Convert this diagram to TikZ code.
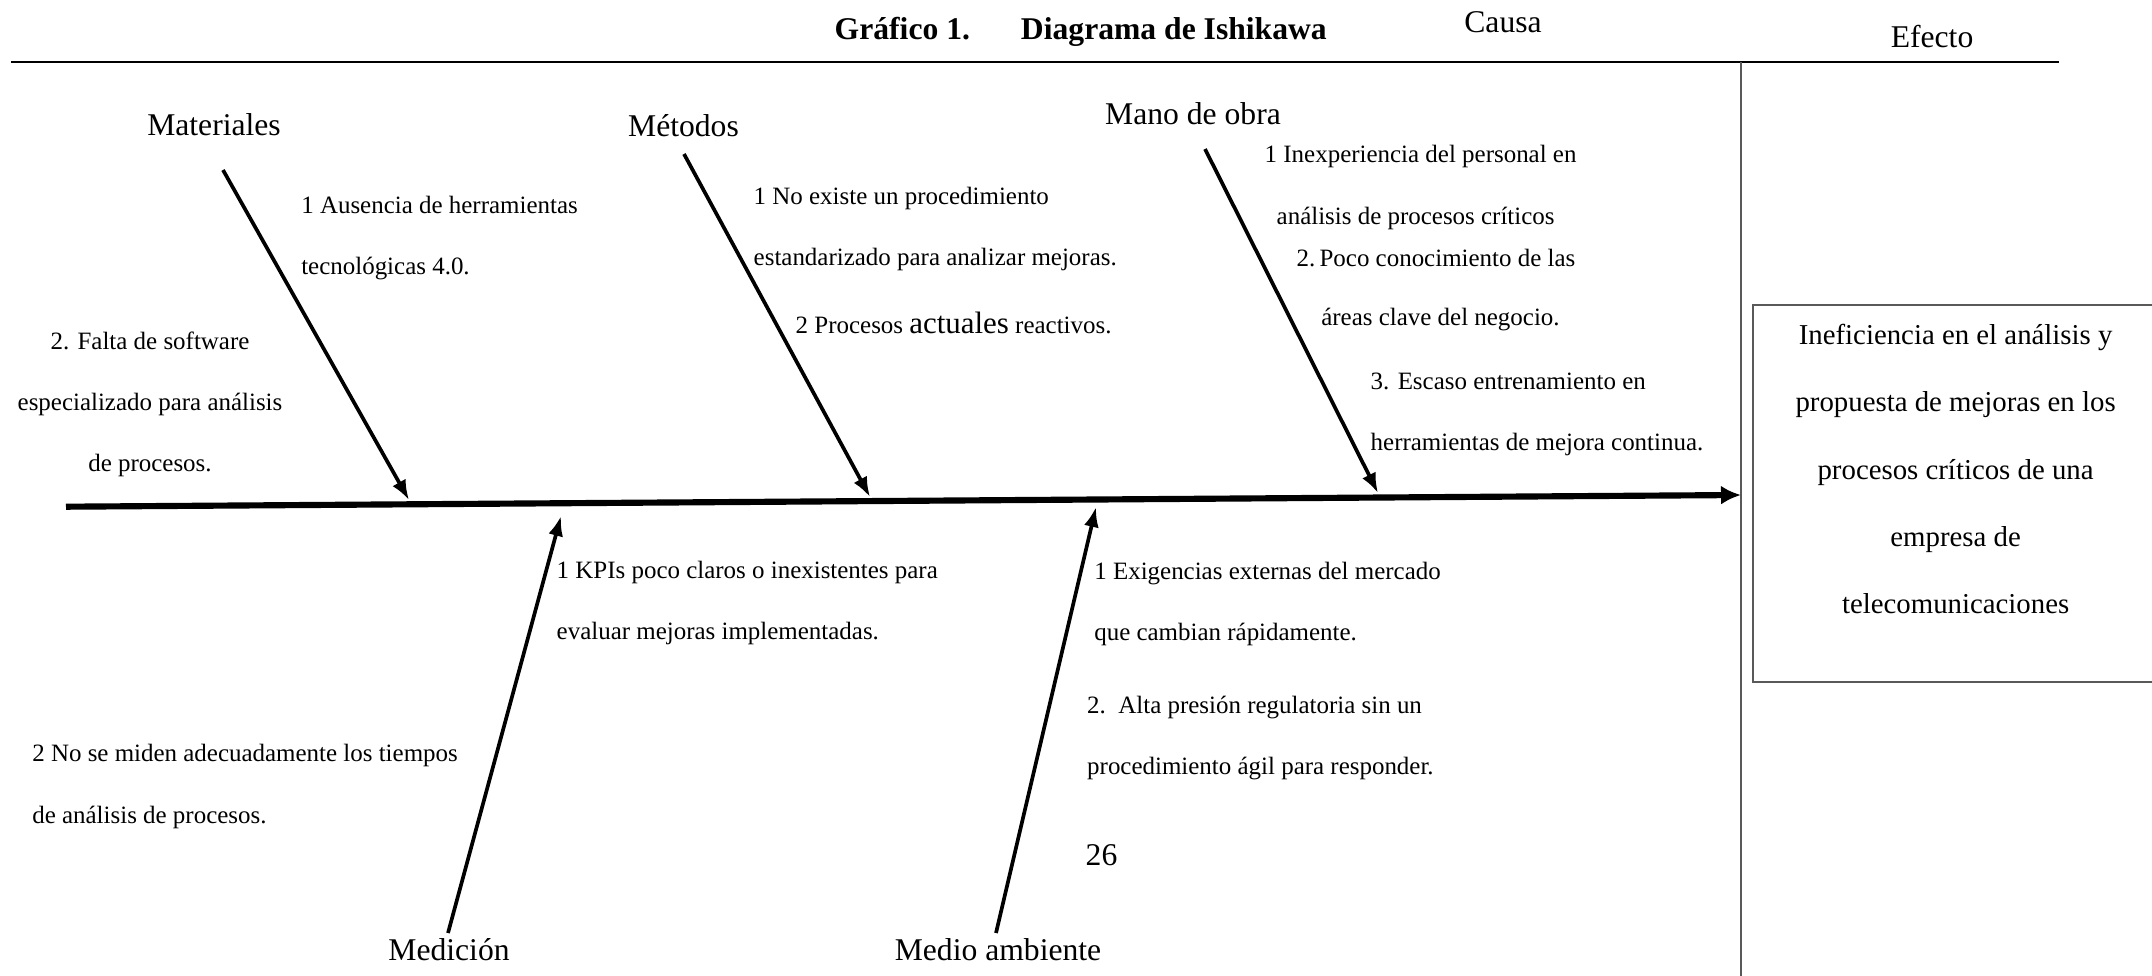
\documentclass[tikz,border=0pt]{standalone}
\usepackage{fontspec}
\setmainfont{Liberation Serif}
\usetikzlibrary{arrows.meta}

\begin{document}
\begin{tikzpicture}[x=0.1mm,y=0.1mm]
  \tikzstyle{cat}=[inner sep=0,font=\fontsize{9}{11}\selectfont]
  \tikzstyle{lbl}=[inner sep=0,anchor=west,align=left,font=\fontsize{7.1}{17.4}\selectfont]
  \tikzstyle{eftxt}=[inner sep=0,align=center,font=\fontsize{8.2}{19.2}\selectfont]
  \tikzstyle{bone}=[-{Latex[length=2mm,width=1.5mm]},line width=1.05pt]
  \tikzstyle{spine}=[-{Latex[length=2mm,width=1.9mm]},line width=1.75pt]
  \tikzstyle{grayline}=[draw=black!65,line width=0.5pt]

  \useasboundingbox (0,0) rectangle (2152,-975);

  % cabecera
  \draw[line width=0.7pt] (11,-62) -- (2059,-62);
  \draw[grayline] (1741,-62) -- (1741,-980);
  \node[inner sep=0,anchor=west,font=\fontsize{9}{11}\selectfont\bfseries] (titulo) at (834,-31.6)
    {Gráfico 1.\hspace{5.1mm}Diagrama de Ishikawa};
  \node[cat] (causa) at (1503,-22) {Causa};
  \node[cat] (efecto) at (1932,-37) {Efecto};

  % espina
  \coordinate (cola) at (66,-506.7);
  \coordinate (cabeza) at (1741,-495);
  \draw[spine] (cola) -- (cabeza);

  % categorias
  \node[cat] (materiales) at (214,-125) {Materiales};
  \node[cat] (metodos) at (683.5,-126) {Métodos};
  \node[cat] (manoobra) at (1193,-114) {Mano de obra};
  \node[cat] (medicion) at (449,-950) {Medición};
  \node[cat] (medio) at (998,-950) {Medio ambiente};

  \coordinate (mat0) at (223,-170);  \coordinate (mat1) at (409,-500);
  \coordinate (met0) at (684,-154);  \coordinate (met1) at (870,-497);
  \coordinate (mo0) at (1205,-149);  \coordinate (mo1) at (1378,-493);
  \coordinate (med0) at (448,-933);  \coordinate (med1) at (561,-516);
  \coordinate (amb0) at (996,-933);  \coordinate (amb1) at (1096,-507);
  \draw[bone] (mat0) -- (mat1);
  \draw[bone] (met0) -- (met1);
  \draw[bone] (mo0) -- (mo1);
  \draw[bone] (med0) -- (med1);
  \draw[bone] (amb0) -- (amb1);

  % causas
  \node[lbl] (matc1) at (300.6,-238) {1 Ausencia de herramientas\\tecnológicas 4.0.};
  \node[lbl,anchor=center,align=center] (matc2) at (150,-404.5)
    {2. Falta de software\\especializado para análisis\\de procesos.};
  \node[lbl] (metc1) at (753,-229) {1 No existe un procedimiento\\estandarizado para analizar mejoras.};
  \node[lbl] (metc2) at (795,-323) {2 Procesos {\fontsize{8.8}{11}\selectfont actuales} reactivos.};
  \node[lbl] (moc1) at (1264,-157) {1 Inexperiencia del personal en};
  \node[lbl] (moc1b) at (1276,-218) {análisis de procesos críticos};
  \node[lbl] (moc2) at (1296,-258) {2.\,Poco conocimiento de las};
  \node[lbl] (moc2b) at (1320.6,-320) {áreas clave del negocio.};
  \node[lbl] (moc3) at (1370,-414) {3. Escaso entrenamiento en\\herramientas de mejora continua.};
  \node[lbl] (medc1) at (556,-603) {1 KPIs poco claros o inexistentes para\\evaluar mejoras implementadas.};
  \node[lbl] (medc2) at (31.6,-786.5) {2 No se miden adecuadamente los tiempos\\de análisis de procesos.};
  \node[lbl] (ambc1) at (1093.6,-604) {1 Exigencias externas del mercado\\que cambian rápidamente.};
  \node[lbl] (ambc2) at (1086.5,-738) {2.\ \ Alta presión regulatoria sin un\\procedimiento ágil para responder.};
  \node[cat,anchor=west] (pagina) at (1085,-855) {26};

  % efecto
  \node[grayline,draw,inner sep=0,minimum width=40.94mm,minimum height=37.7mm] (efbox) at (1957.3,-493.5) {};
  \node[eftxt] (eftexto) at (1955.6,-469)
    {Ineficiencia en el análisis y\\propuesta de mejoras en los\\procesos críticos de una\\empresa de\\telecomunicaciones};
\end{tikzpicture}
\end{document}
